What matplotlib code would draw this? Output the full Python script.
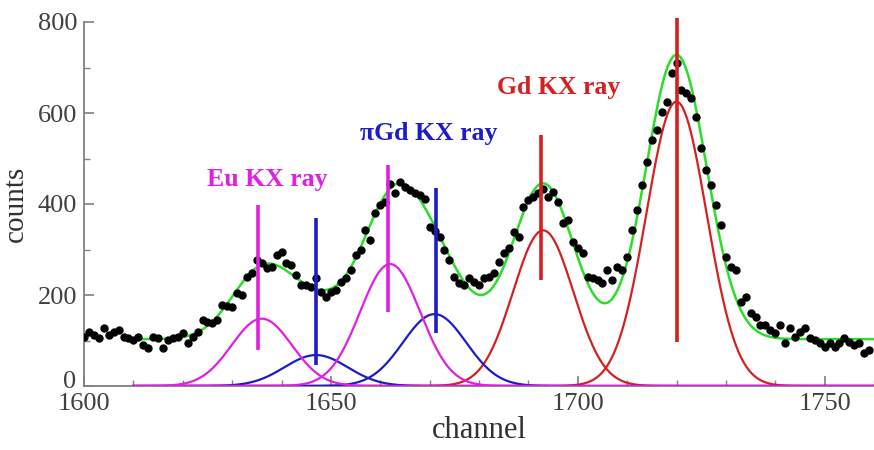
import numpy as np
import matplotlib
matplotlib.use("Agg")
import matplotlib.pyplot as plt
from matplotlib.ticker import MultipleLocator, FuncFormatter

plt.rcParams['font.family'] = ['Liberation Serif', 'DejaVu Serif']

# measured spectrum
channel = list(range(1600, 1760))
counts = [108, 119, 112, 105, 127, 112, 119, 124, 108, 105,
          101, 108, 90, 83, 108, 105, 83, 101, 105, 108,
          116, 94, 108, 119, 145, 140, 138, 145, 178, 175,
          174, 204, 201, 240, 248, 277, 270, 259, 262, 288,
          295, 270, 266, 244, 222, 222, 218, 237, 207, 196,
          207, 211, 229, 237, 255, 288, 299, 343, 321, 380,
          398, 405, 445, 424, 449, 438, 431, 424, 420, 412,
          350, 340, 328, 299, 277, 240, 226, 222, 237, 229,
          222, 237, 240, 248, 273, 292, 303, 339, 328, 394,
          409, 416, 424, 434, 416, 427, 405, 358, 365, 317,
          303, 292, 240, 237, 233, 226, 255, 233, 262, 255,
          284, 343, 387, 442, 493, 541, 563, 603, 625, 687,
          709, 651, 643, 632, 592, 522, 475, 442, 398, 354,
          284, 262, 255, 185, 196, 160, 152, 134, 134, 123,
          116, 134, 94, 127, 108, 119, 127, 105, 101, 94,
          86, 94, 86, 94, 105, 97, 90, 94, 72, 79]

# fitted peak parameters
eu_centers = [1636, 1662]
eu_heights = [148, 268]
pigd_centers = [1647, 1671]
pigd_heights = [68, 158]
gd_centers = [1693, 1720]
gd_heights = [342, 625]
peak_sigma = [6.1, 6.4, 6.1]   # Eu, piGd, Gd
background = 103

# marker lines: (channel, low, high)
eu_marks = [(1635.3, 79, 398), (1661.5, 163, 486)]
pigd_marks = [(1646.9, 46, 369), (1671.2, 116, 435)]
gd_marks = [(1692.6, 233, 552), (1720.0, 97, 809)]

labels = ["Eu KX ray", "πGd KX ray", "Gd KX ray"]
label_pos = [(1637.1, 453), (1669.8, 556), (1696.1, 655)]

MAG = '#e020e0'
BLUE = '#1c1cc8'
RED = '#d42020'
GREEN = '#2ade2a'

fig = plt.figure(figsize=(8.74, 4.5), dpi=100)
ax = fig.add_axes([84/874, 1-386/450, 1-84/874, (386-22)/450])

def gauss(x, c, h, s):
    return h*np.exp(-(x-c)**2/(2*s**2))

xc = np.linspace(1610, 1760, 1200)
xg = np.linspace(1612, 1760, 1200)
total = np.full_like(xg, background, dtype=float)
for cs, hs, s in zip([eu_centers, pigd_centers, gd_centers],
                     [eu_heights, pigd_heights, gd_heights], peak_sigma):
    for c, h in zip(cs, hs):
        total += gauss(xg, c, h, s)

ax.plot(xg, total, color=GREEN, lw=1.8, zorder=2)
for c, h in zip(gd_centers, gd_heights):
    ax.plot(xc, gauss(xc, c, h, peak_sigma[2]), color=RED, lw=1.6, zorder=3)
for c, h in zip(pigd_centers, pigd_heights):
    ax.plot(xc, gauss(xc, c, h, peak_sigma[1]), color=BLUE, lw=1.6, zorder=3)
for c, h in zip(eu_centers, eu_heights):
    ax.plot(xc, gauss(xc, c, h, peak_sigma[0]), color=MAG, lw=1.6, zorder=4)

ax.plot(channel, counts, 'o', color='black', ms=5, zorder=5)

for marks, col in [(eu_marks, MAG), (pigd_marks, BLUE), (gd_marks, RED)]:
    for c, lo, hi in marks:
        ax.plot([c, c], [lo, hi], color=col, lw=2.6, zorder=6, clip_on=False,
                solid_capstyle='butt')

for txt, (x, y), col in zip(labels, label_pos, [MAG, BLUE, RED]):
    ax.text(x, y, txt, color=col, fontsize=18.5, fontweight='bold',
            ha='center', va='center')

ax.set_xlim(1600, 1760)
ax.set_ylim(0, 800)
for s in ['top', 'right']:
    ax.spines[s].set_visible(False)
for s in ['left', 'bottom']:
    ax.spines[s].set_color('#808080')
    ax.spines[s].set_linewidth(1.3)

ax.xaxis.set_major_locator(MultipleLocator(50))
ax.xaxis.set_minor_locator(MultipleLocator(10))
ax.yaxis.set_major_locator(MultipleLocator(200))
ax.yaxis.set_minor_locator(MultipleLocator(100))
ax.yaxis.set_major_formatter(FuncFormatter(lambda v, p: '' if v == 0 else f'{v:.0f}'))
ax.tick_params(which='both', direction='in', colors='#808080', labelcolor='#404040',
               labelsize=19)
ax.tick_params(which='major', length=7, width=1.2)
ax.tick_params(which='minor', length=4, width=1.0)
ax.tick_params(axis='x', pad=5)
ax.tick_params(axis='y', pad=5)

# the "0" label sits slightly above the axis corner, as in the reference
ax.annotate('0', xy=(0, 0), xycoords='axes fraction', xytext=(-5.5, 4.5),
            textcoords='offset points', ha='right', va='center_baseline',
            fontsize=19, color='#404040')

ax.set_xlabel('channel', fontsize=22, color='#303030', labelpad=1)
ax.set_ylabel('counts', fontsize=21, color='#303030', labelpad=6)

fig.savefig('out.png', dpi=100)
